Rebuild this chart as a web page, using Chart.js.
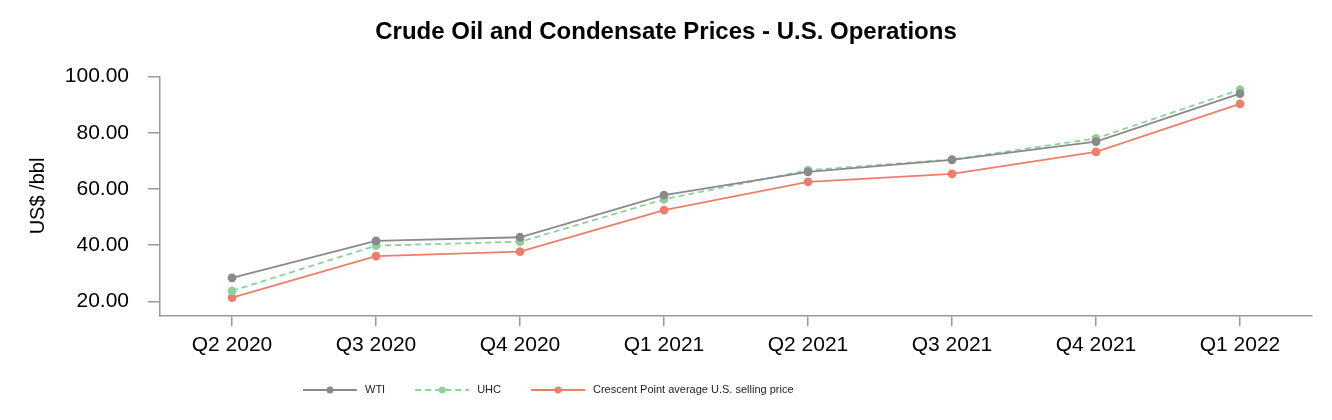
<!DOCTYPE html>
<html>
<head>
<meta charset="utf-8">
<script src="https://cdn.jsdelivr.net/npm/chart.js@4/dist/chart.umd.min.js"></script>
<style>
  body { margin: 0; background: #fff; }
  canvas { display: block; }
</style>
</head>
<body>
<canvas id="myChart" width="1332" height="420"></canvas>
<script>
// quarterly crude oil prices, US$/bbl
var quarters = ['Q2 2020', 'Q3 2020', 'Q4 2020', 'Q1 2021', 'Q2 2021', 'Q3 2021', 'Q4 2021', 'Q1 2022'];
var wti = [28.3, 41.5, 42.8, 57.8, 66.1, 70.4, 76.9, 94.0];
var uhc = [23.7, 39.8, 41.2, 56.3, 66.7, 70.5, 78.0, 95.4];
var crescent = [21.3, 36.1, 37.7, 52.5, 62.5, 65.4, 73.2, 90.3];
var yTicks = [20, 40, 60, 80, 100];

var axisColor = '#9a9a9a';
var fontFamily = '"Liberation Sans", Arial, sans-serif';

// legend drawn by hand: line with a dot in the middle, then the label
var lineLegend = {
  id: 'lineLegend',
  afterDraw: function(chart) {
    var ctx = chart.ctx;
    var x = 303, y = 390;
    ctx.save();
    ctx.font = '11px ' + fontFamily;
    ctx.textBaseline = 'middle';
    chart.data.datasets.forEach(function(ds) {
      ctx.strokeStyle = ds.borderColor;
      ctx.lineWidth = ds.borderWidth;
      ctx.setLineDash(ds.borderDash || []);
      ctx.beginPath();
      ctx.moveTo(x, y);
      ctx.lineTo(x + 54, y);
      ctx.stroke();
      ctx.setLineDash([]);
      ctx.fillStyle = ds.pointBackgroundColor;
      ctx.beginPath();
      ctx.arc(x + 27, y, 3.5, 0, Math.PI * 2);
      ctx.fill();
      ctx.fillStyle = '#222';
      ctx.fillText(ds.label, x + 62, y);
      x += 62 + ctx.measureText(ds.label).width + 30;
    });
    ctx.restore();
  }
};

var ctx = document.getElementById('myChart').getContext('2d');
var myChart = new Chart(ctx, {
  type: 'line',
  data: {
    labels: quarters,
    datasets: [{
      label: 'WTI',
      data: wti,
      borderColor: '#8a8a8a',
      pointBackgroundColor: '#8a8a8a',
      pointBorderColor: '#8a8a8a',
      borderWidth: 1.8,
      pointRadius: 3.5,
      fill: false
    }, {
      label: 'UHC',
      data: uhc,
      borderColor: '#8fd19c',
      pointBackgroundColor: '#8fd19c',
      pointBorderColor: '#8fd19c',
      borderWidth: 1.8,
      borderDash: [6, 4],
      pointRadius: 3.5,
      fill: false
    }, {
      label: 'Crescent Point average U.S. selling price',
      data: crescent,
      borderColor: '#ee7e6c',
      pointBackgroundColor: '#ee7e6c',
      pointBorderColor: '#ee7e6c',
      borderWidth: 1.8,
      pointRadius: 3.5,
      fill: false
    }]
  },
  options: {
    responsive: false,
    animation: false,
    layout: {
      padding: { left: 0, right: 0, top: 0, bottom: 54.7 }
    },
    plugins: {
      legend: { display: false },
      tooltip: { enabled: false },
      title: {
        display: true,
        text: 'Crude Oil and Condensate Prices - U.S. Operations',
        color: '#000',
        font: { family: fontFamily, size: 24, weight: 'bold' },
        padding: { top: 17.5, bottom: 30.4 }
      }
    },
    scales: {
      x: {
        offset: true,
        grid: { display: true, drawOnChartArea: false, tickLength: 11, color: axisColor, lineWidth: 1.5 },
        border: { color: axisColor, width: 1.5 },
        ticks: { color: '#000', padding: 6, font: { family: fontFamily, size: 21 } },
        afterFit: function(scale) { scale.height = 50; }
      },
      y: {
        min: 15,
        max: 100,
        afterBuildTicks: function(scale) {
          scale.ticks = yTicks.map(function(v) { return { value: v }; });
        },
        grid: { display: true, drawOnChartArea: false, tickLength: 12, color: axisColor, lineWidth: 1.5 },
        border: { color: axisColor, width: 1.5 },
        ticks: {
          color: '#000',
          padding: 19,
          font: { family: fontFamily, size: 21 },
          callback: function(v) { return Number(v).toFixed(2); }
        },
        title: {
          display: true,
          text: 'US$ /bbl',
          color: '#000',
          font: { family: fontFamily, size: 20 },
          padding: { top: 26, bottom: 0 }
        },
        afterFit: function(scale) { scale.width = 160; }
      },
      // empty right-hand axis, only keeps a margin on the right
      yRight: {
        position: 'right',
        min: 15,
        max: 100,
        grid: { display: false },
        border: { display: false },
        ticks: { display: false },
        afterFit: function(scale) { scale.width = 20; }
      }
    }
  },
  plugins: [lineLegend]
});
</script>
</body>
</html>
